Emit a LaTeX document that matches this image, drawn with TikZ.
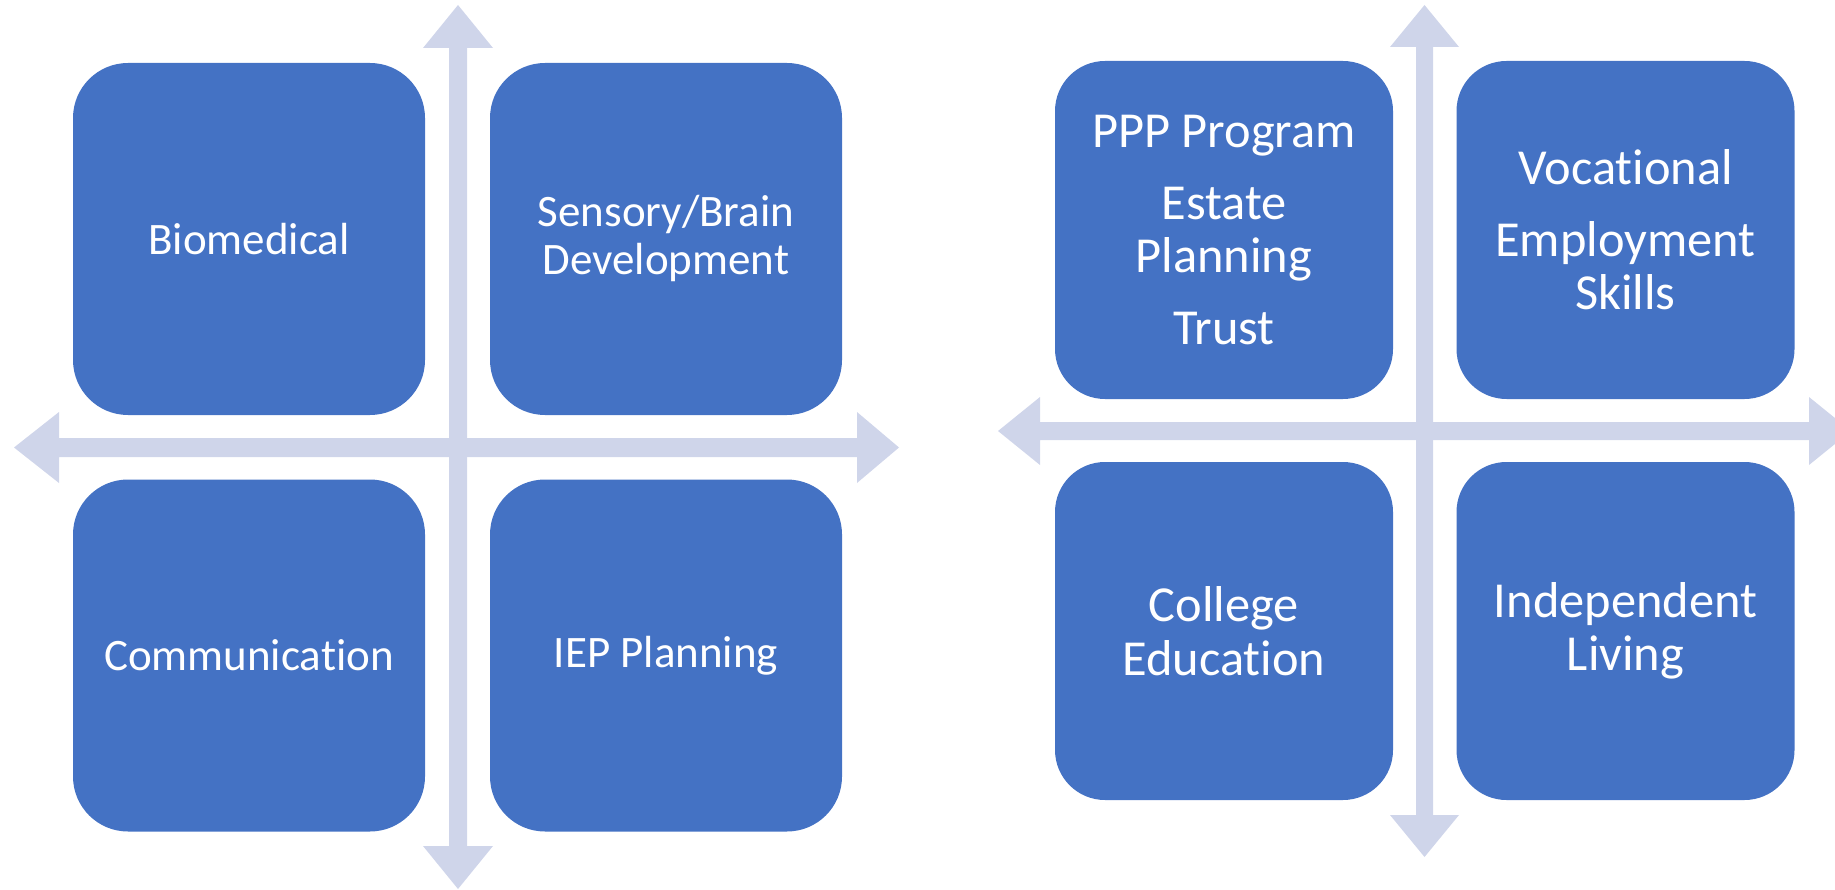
\documentclass[tikz,border=0pt]{standalone}
\usepackage{fontspec}
\setmainfont[Ligatures={NoCommon}]{Carlito}
\definecolor{boxblue}{RGB}{68,114,196}
\definecolor{axisgray}{RGB}{207,213,234}
\tikzset{
  quad/.style={fill=boxblue, draw=none, rounded corners=#1, inner sep=0pt, align=center, text=white},
  lquad/.style={quad=55pt, minimum width=352pt, minimum height=352pt, font=\fontsize{45}{48}\selectfont},
  rquad/.style={quad=50pt, minimum width=338pt, minimum height=338pt, font=\fontsize{50.4}{53.5}\selectfont},
  axis/.style={fill=axisgray, draw=none}
}
\begin{document}
\begin{tikzpicture}[x=1pt,y=-1pt]
\useasboundingbox (0,0) rectangle (1835,890);
\clip (0,0) rectangle (1835,890);
% ---- left diagram axes ----
\fill[axis] (449,48) -- (423,48) -- (458,5) -- (493,48) -- (467,48) -- (467,846) -- (493,846) -- (458,889) -- (423,846) -- (449,846) -- cycle;
\fill[axis] (59,438) -- (59,412) -- (14,447.5) -- (59,483) -- (59,457) -- (857,457) -- (857,483) -- (899,447.5) -- (857,412) -- (857,438) -- cycle;
% ---- left diagram boxes ----
\node[lquad] (bio) at (249,239) {Biomedical};
\node[lquad] (sens) at (666,239) {Sensory/Brain\\Development};
\node[lquad] (comm) at (249,655.5) {Communication};
\node[lquad] (iep) at (666,655.5) {IEP Planning};
% ---- right diagram axes ----
\fill[axis] (1416,47) -- (1390,47) -- (1424.5,5) -- (1459,47) -- (1433,47) -- (1433,815) -- (1459,815) -- (1424.5,857) -- (1390,815) -- (1416,815) -- cycle;
\fill[axis] (1040,422) -- (1040,397) -- (998,431) -- (1040,465) -- (1040,440) -- (1809,440) -- (1809,465) -- (1851,431) -- (1809,397) -- (1809,422) -- cycle;
% ---- right diagram boxes ----
\node[rquad] (ppp) at (1224,230) {PPP Program\\[18pt]Estate\\Planning\\[18pt]Trust};
\node[rquad] (voc) at (1625.5,230) {Vocational\\[18pt]Employment\\Skills};
\node[rquad] (coll) at (1224,631) {College\\Education};
\node[rquad] (ind) at (1625.5,631) {Independent\\Living};
\end{tikzpicture}
\end{document}
